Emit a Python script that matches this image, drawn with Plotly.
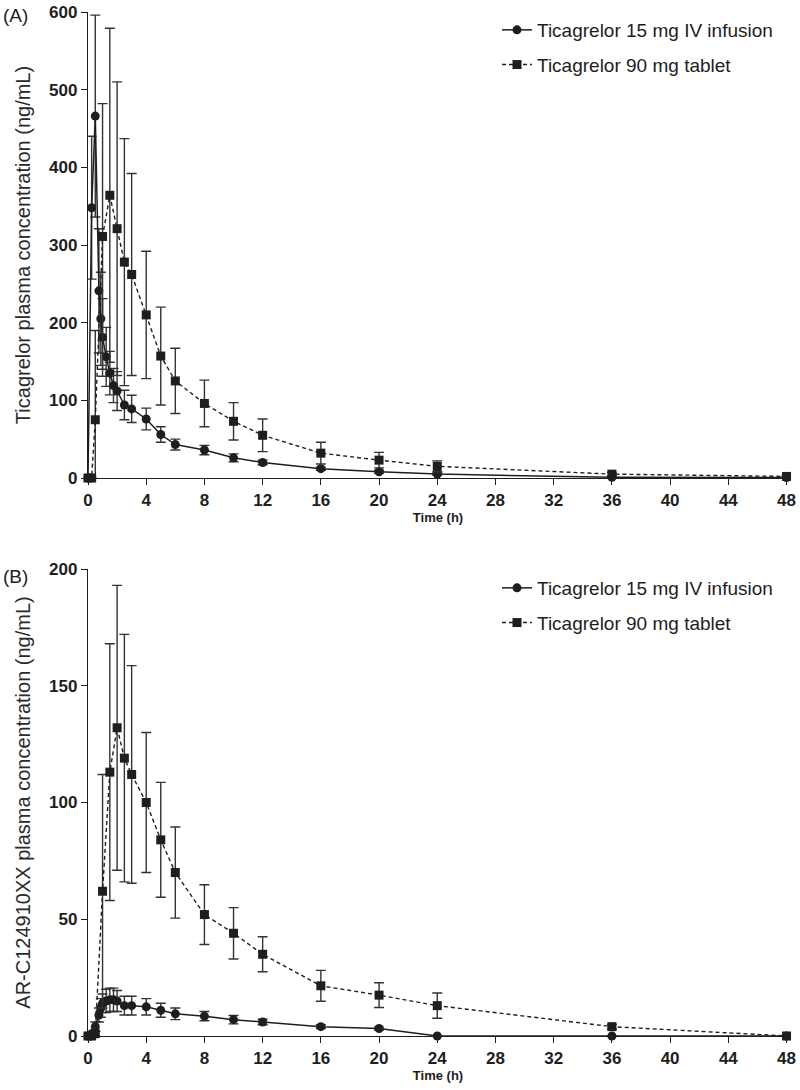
import plotly.graph_objects as go

# ---------------- Data ----------------
iv_time = [0, 0.25, 0.5, 0.75, 0.88, 1, 1.25, 1.5, 1.75, 2, 2.5, 3, 4, 5, 6, 8, 10, 12, 16, 20, 24, 36, 48]
tab_time = [0, 0.25, 0.5, 1, 1.5, 2, 2.5, 3, 4, 5, 6, 8, 10, 12, 16, 20, 24, 36, 48]

# Panel A: ticagrelor
iv_conc_A = [0, 348, 466, 241, 205, 181, 156, 135, 119, 112, 94, 89, 76, 56, 43, 36, 26, 20, 12, 8, 5, 1, 0.5]
iv_sd_A = [0, 92, 130, 80, 60, 50, 38, 28, 22, 25, 19, 17.5, 14, 10, 7, 6, 5, 3, 2, 2, 1.5, 0.5, 0.3]
tab_conc_A = [0, 0, 75, 311, 364, 321, 278, 262, 210, 157, 125, 96, 73, 55, 32, 23, 15, 5, 2]
tab_sd_A = [0, 0, 115, 171, 215, 189, 159, 130, 82, 63, 42, 30, 24, 21, 14, 10, 7, 2, 1]

# Panel B: AR-C124910XX
iv_conc_B = [0, 1, 4, 9, 12, 14, 15, 15.5, 15.5, 15, 13, 13, 12.5, 11, 9.5, 8.5, 7, 6, 4, 3.2, 0, 0, 0]
iv_sd_B = [0, 0.5, 2, 3, 4, 4, 5, 5, 5, 4.5, 4, 4, 3.5, 3, 2.5, 2, 1.8, 1.2, 0.8, 0.6, 0, 0, 0]
tab_conc_B = [0, 0, 1, 62, 113, 132, 119, 112, 100, 84, 70, 52, 44, 35, 21.5, 17.5, 13, 4, 0]
tab_sd_B = [0, 0, 1, 50, 55, 61, 53, 46.6, 30, 24.6, 19.5, 12.8, 11, 7.5, 6.6, 5.3, 5.4, 1, 0]

x_ticks = list(range(0, 49, 4))
series_names = ["Ticagrelor 15 mg IV infusion", "Ticagrelor 90 mg tablet"]
y_titles = ["Ticagrelor plasma concentration (ng/mL)", "AR-C124910XX plasma concentration (ng/mL)"]
panel_labels = ["(A)", "(B)"]

# ---------------- Figure ----------------
INK = "#1e1e1e"
FONT = "Liberation Sans, Arial, sans-serif"

fig = go.Figure()


def add_pair(xa, ya, legend, ivc, ivs, tbc, tbs):
    fig.add_trace(go.Scatter(
        x=iv_time, y=ivc, mode="lines+markers", name=series_names[0],
        xaxis=xa, yaxis=ya, legend=legend, legendgroup=legend + "iv",
        line=dict(color=INK, width=1.5),
        marker=dict(symbol="circle", size=9, color=INK),
        error_y=dict(type="data", array=ivs, visible=True, color="#333", thickness=1.4, width=5),
        cliponaxis=False,
    ))
    fig.add_trace(go.Scatter(
        x=tab_time, y=tbc, mode="lines+markers", name=series_names[1],
        xaxis=xa, yaxis=ya, legend=legend, legendgroup=legend + "tab",
        line=dict(color=INK, width=1.4, dash="4px,3px"),
        marker=dict(symbol="square", size=9, color=INK),
        error_y=dict(type="data", array=tbs, visible=True, color="#333", thickness=1.4, width=5),
        cliponaxis=False,
    ))


add_pair("x", "y", "legend", iv_conc_A, iv_sd_A, tab_conc_A, tab_sd_A)
add_pair("x2", "y2", "legend2", iv_conc_B, iv_sd_B, tab_conc_B, tab_sd_B)

H = 1090
T, B = 12, 54
PH = H - T - B


def py(pix):
    return (H - B - pix) / PH


axis_common = dict(
    showline=True, linecolor=INK, linewidth=1.4,
    ticks="outside", ticklen=6, tickwidth=1.4, tickcolor=INK,
    showgrid=False, zeroline=False, automargin=False,
    tickfont=dict(family=FONT, size=17, color=INK, weight="bold"),
)

xaxis_common = dict(
    axis_common, range=[0, 48.1], tickvals=x_ticks,
    title=dict(text="Time (h)", font=dict(family=FONT, size=13, color=INK, weight="bold"), standoff=2),
)

yfont = dict(family=FONT, size=20, color="#2a2a2a")

fig.update_layout(
    width=800, height=H,
    margin=dict(l=88, r=12, t=T, b=B, autoexpand=False),
    plot_bgcolor="white", paper_bgcolor="white",
    showlegend=True,
    xaxis=dict(xaxis_common, domain=[0, 1], anchor="y"),
    yaxis=dict(axis_common, domain=[py(478), 1], anchor="x", range=[0, 600], dtick=100,
               title=dict(text=y_titles[0], font=yfont, standoff=13)),
    xaxis2=dict(xaxis_common, domain=[0, 1], anchor="y2"),
    yaxis2=dict(axis_common, domain=[0, py(569)], anchor="x2", range=[0, 200], dtick=50,
                title=dict(text=y_titles[1], font=yfont, standoff=13)),
    legend=dict(x=(497 - 88) / 700, y=py(11), xanchor="left", yanchor="top",
                font=dict(family=FONT, size=19, color=INK), bgcolor="rgba(0,0,0,0)",
                tracegroupgap=7),
    legend2=dict(x=(497 - 88) / 700, y=py(569), xanchor="left", yanchor="top",
                 font=dict(family=FONT, size=19, color=INK), bgcolor="rgba(0,0,0,0)",
                 tracegroupgap=7),
    annotations=[
        dict(text=panel_labels[0], xref="paper", yref="paper", x=(1 - 88) / 700, y=py(15),
             xanchor="left", yanchor="middle", showarrow=False,
             font=dict(family=FONT, size=19, color=INK)),
        dict(text=panel_labels[1], xref="paper", yref="paper", x=(1 - 88) / 700, y=py(576),
             xanchor="left", yanchor="middle", showarrow=False,
             font=dict(family=FONT, size=19, color=INK)),
    ],
)

fig.write_html("out.html", config={"displayModeBar": False},
               post_script="document.body.style.margin='0px';")
